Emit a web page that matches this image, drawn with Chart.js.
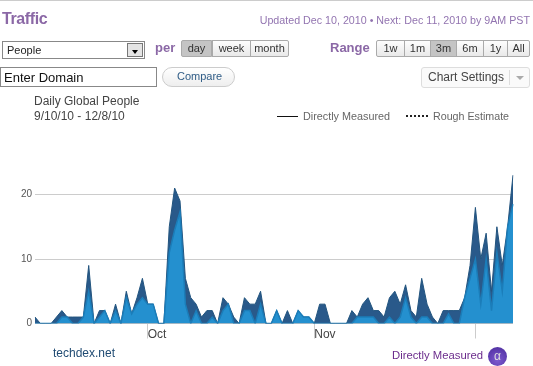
<!DOCTYPE html>
<html>
<head>
<meta charset="utf-8">
<script src="https://cdn.jsdelivr.net/npm/chart.js@4"></script>
<style>
html, body { margin: 0; padding: 0; background: #fff; overflow: hidden; }
body { width: 533px; height: 366px; position: relative; font-family: "Liberation Sans", Arial, sans-serif; }
#wrap { position: absolute; left: 0; top: 0; width: 533px; height: 366px; }
.t { position: absolute; white-space: nowrap; line-height: 1; }
.b { position: absolute; top: 40px; height: 17px; box-sizing: border-box; border: 1px solid #aaa; background: linear-gradient(#fdfdfd, #e9e9e9); font-size: 11px; line-height: 15px; text-align: center; color: #333; }
.on { background: #c4c4c4; }
.box { position: absolute; box-sizing: border-box; }
</style>
</head>
<body>
<div id="wrap"><canvas id="myChart" width="533" height="366"></canvas></div>

<div class="box" style="left:0;top:0;width:533px;height:1px;background:#ccc"></div>
<div class="t" style="left:2px;top:11px;font-size:16px;font-weight:bold;letter-spacing:-0.4px;color:#8b68a6">Traffic</div>
<div class="t" style="right:3px;top:15px;font-size:10.7px;color:#9274b0">Updated Dec 10, 2010 • Next: Dec 11, 2010 by 9AM PST</div>

<div class="box" style="left:2px;top:41px;width:143px;height:18px;border:1px solid #888"></div>
<div class="t" style="left:7px;top:45px;font-size:11px;color:#222">People</div>
<div class="box" style="left:127px;top:43px;width:16px;height:14px;border:1px solid #777;background:#e4e4e4"></div>
<div class="box" style="left:132px;top:50px;border-left:3px solid transparent;border-right:3px solid transparent;border-top:4px solid #000"></div>

<div class="t" style="left:155px;top:41px;font-size:13px;font-weight:bold;color:#8b68a6">per</div>
<div class="b on" style="left:181px;width:31px;border-radius:2px 0 0 2px">day</div>
<div class="b" style="left:212px;width:39px">week</div>
<div class="b" style="left:250px;width:39px;border-radius:0 2px 2px 0">month</div>

<div class="t" style="left:330px;top:41px;font-size:13px;font-weight:bold;color:#8b68a6">Range</div>
<div class="b" style="left:376px;width:29px;border-radius:2px 0 0 2px">1w</div>
<div class="b" style="left:404px;width:27px">1m</div>
<div class="b on" style="left:430px;width:27px">3m</div>
<div class="b" style="left:456px;width:28px">6m</div>
<div class="b" style="left:483px;width:25px">1y</div>
<div class="b" style="left:507px;width:23px;border-radius:0 2px 2px 0">All</div>

<div class="box" style="left:0;top:67px;width:157px;height:20px;border:1px solid #888"></div>
<div class="t" style="left:4px;top:71px;font-size:13px;color:#111">Enter Domain</div>
<div class="box" style="left:162px;top:67px;width:73px;height:20px;border:1px solid #ccc;border-radius:10px;background:linear-gradient(#fff,#eee)"></div>
<div class="t" style="left:177px;top:71px;font-size:11px;color:#2f5c86">Compare</div>
<div class="box" style="left:421px;top:67px;width:109px;height:21px;border:1px solid #ddd;border-radius:3px;background:#fafafa"></div>
<div class="t" style="left:428px;top:71px;font-size:12px;color:#444">Chart Settings</div>
<div class="box" style="left:509px;top:70px;width:1px;height:15px;background:#ddd"></div>
<div class="box" style="left:516px;top:76px;border-left:4px solid transparent;border-right:4px solid transparent;border-top:4px solid #aaa"></div>

<div class="t" style="left:34px;top:95px;font-size:12px;color:#444">Daily Global People</div>
<div class="t" style="left:34px;top:110px;font-size:12px;color:#444">9/10/10 - 12/8/10</div>
<div class="box" style="left:277px;top:116px;width:21px;height:1px;background:#111"></div>
<div class="t" style="left:303px;top:111px;font-size:10.8px;color:#666">Directly Measured</div>
<div class="box" style="left:406px;top:115px;width:22px;height:0;border-top:2px dotted #222"></div>
<div class="t" style="left:433px;top:111px;font-size:10.7px;color:#666">Rough Estimate</div>

<div class="t" style="left:53px;top:347px;font-size:12px;color:#1f4a72">techdex.net</div>
<div class="t" style="left:392px;top:350px;font-size:11.3px;color:#6b2c8c">Directly Measured</div>
<div class="box" style="left:488px;top:347px;width:19px;height:19px;border-radius:50%;background:radial-gradient(circle at 50% 70%,#7d5ad0,#4a2a9a);color:#ddd;font-size:12px;line-height:18px;text-align:center">α</div>

<script>
const days = [
    '9/10', '9/11', '9/12', '9/13', '9/14', '9/15', '9/16', '9/17', '9/18', '9/19', '9/20',
    '9/21', '9/22', '9/23', '9/24', '9/25', '9/26', '9/27', '9/28', '9/29', '9/30',
    '10/1', '10/2', '10/3', '10/4', '10/5', '10/6', '10/7', '10/8', '10/9', '10/10',
    '10/11', '10/12', '10/13', '10/14', '10/15', '10/16', '10/17', '10/18', '10/19', '10/20',
    '10/21', '10/22', '10/23', '10/24', '10/25', '10/26', '10/27', '10/28', '10/29', '10/30', '10/31',
    '11/1', '11/2', '11/3', '11/4', '11/5', '11/6', '11/7', '11/8', '11/9', '11/10',
    '11/11', '11/12', '11/13', '11/14', '11/15', '11/16', '11/17', '11/18', '11/19', '11/20',
    '11/21', '11/22', '11/23', '11/24', '11/25', '11/26', '11/27', '11/28', '11/29', '11/30',
    '12/1', '12/2', '12/3', '12/4', '12/5', '12/6', '12/7', '12/8'
]

// one value per day
const totalPeople = [1, 0, 0, 0, 1, 2, 1, 1, 1, 1, 9, 0, 2, 2, 0, 3, 0, 5, 1.5, 4, 7, 3, 3, 0, 0, 15, 21, 19, 7, 4, 3, 1, 2, 2, 0, 4, 3, 1, 0, 4, 3, 3, 5, 0, 0, 2, 0, 2, 0, 2, 1, 1, 0, 3, 3, 0, 0, 0, 0, 2, 1, 3, 4, 2, 2, 1, 4, 5, 3, 6, 2, 1, 7, 3, 1, 0, 2, 2, 2, 2, 4, 9, 18, 10, 14, 5, 15, 9, 15, 23]
const directPeople = [0, 0, 0, 0, 0, 1, 1, 0, 0, 1, 5, 0, 1, 2, 0, 2, 0, 4, 1.5, 3, 4, 3, 3, 0, 0, 11, 14.5, 17.3, 3, 0, 2, 0, 0, 1, 0, 2, 3, 0, 0, 2, 2, 0, 3, 0, 0, 2, 0, 0, 0, 2, 1, 1, 0, 0, 0, 0, 0, 0, 0, 0, 1, 1, 1, 1, 0, 0, 1, 0, 1, 4, 1, 0, 1, 1, 0, 0, 0, 1.5, 0, 0, 4, 7, 10, 3, 10, 2, 11, 5, 15, 18.5]

const monthTicks = ['10/1', '11/1', '12/1']
const monthLabels = ['Oct', 'Nov', '']
const yTicks = [0, 10, 20]

const ctx = document.getElementById('myChart')

new Chart(ctx, {
    type: 'line',
    data: {
        labels: days,
        datasets: [{
            label: 'Directly Measured',
            data: directPeople,
            borderColor: '#1b7db9',
            borderWidth: 1.5,
            backgroundColor: '#2490cf',
            fill: 'origin',
            tension: 0,
            pointRadius: 0
        }, {
            label: 'Total',
            data: totalPeople,
            borderColor: '#23557f',
            borderWidth: 1,
            backgroundColor: '#29598a',
            fill: 'origin',
            tension: 0,
            pointRadius: 0
        }]
    },
    options: {
        responsive: false,
        animation: false,
        layout: { padding: { top: 168.7, right: 20 } },
        plugins: { legend: { display: false }, tooltip: { enabled: false } },
        scales: {
            x: {
                afterFit: (s) => { s.height = 42.5 },
                border: { display: false },
                grid: {
                    drawOnChartArea: false,
                    tickLength: 15,
                    tickColor: (c) => monthTicks.includes(days[c.index]) ? '#ccc' : 'transparent'
                },
                ticks: {
                    autoSkip: false,
                    maxRotation: 0,
                    align: 'start',
                    padding: -11,
                    color: '#444',
                    font: { family: 'Liberation Sans', size: 12 },
                    callback: (v, i) => {
                        const k = monthTicks.indexOf(days[i])
                        return k >= 0 ? monthLabels[k] : ''
                    }
                }
            },
            y: {
                min: 0,
                max: 24,
                afterFit: (s) => { s.width = 35 },
                afterBuildTicks: (s) => { s.ticks = yTicks.map((v) => ({ value: v })) },
                border: { display: false },
                grid: { color: '#ccc', drawTicks: false },
                ticks: {
                    padding: 3,
                    color: '#555',
                    font: { family: 'Liberation Sans', size: 10 }
                }
            }
        }
    }
})
</script>
</body>
</html>
